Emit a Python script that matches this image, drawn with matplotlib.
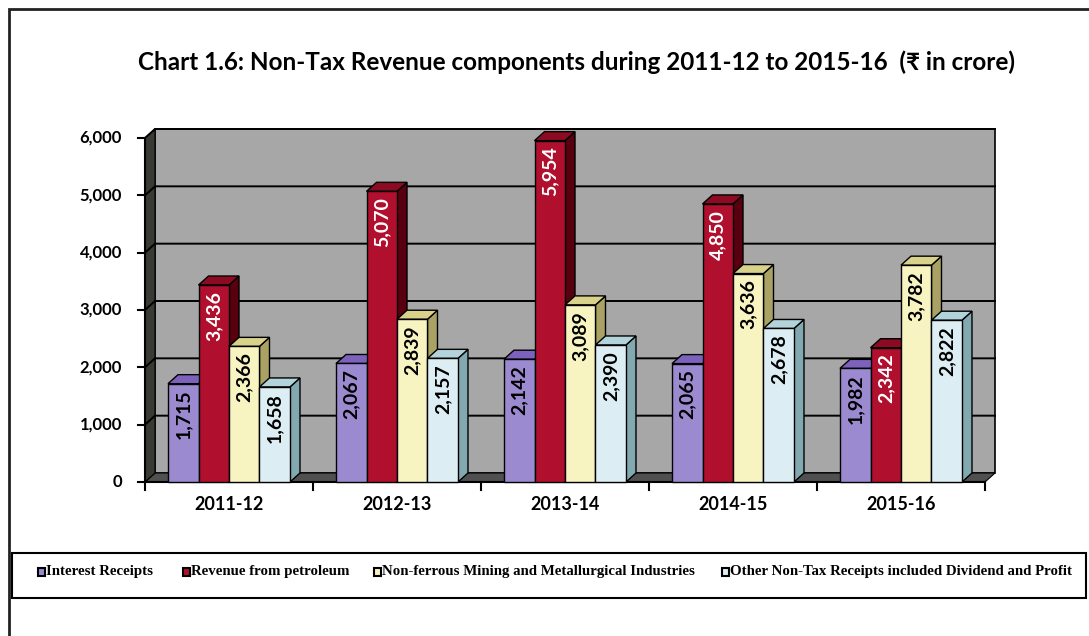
import matplotlib.pyplot as plt
from matplotlib.patches import Polygon, Rectangle

# Non-tax revenue components (Rs in crore)
years = ["2011-12", "2012-13", "2013-14", "2014-15", "2015-16"]
interest = [1715, 2067, 2142, 2065, 1982]
petroleum = [3436, 5070, 5954, 4850, 2342]
mining = [2366, 2839, 3089, 3636, 3782]
other = [1658, 2157, 2390, 2678, 2822]
series_names = ["Interest Receipts", "Revenue from petroleum",
                "Non-ferrous Mining and Metallurgical Industries",
                "Other Non-Tax Receipts included Dividend and Profit"]
yticks = [0, 1000, 2000, 3000, 4000, 5000, 6000]

# front, top, side colours of each series
colours = [("#9c8ad0", "#7d62bd", "#5f4e93"),
           ("#b0102e", "#8c0b22", "#58000f"),
           ("#f8f4c2", "#d9d28a", "#a9a264"),
           ("#dcedf3", "#b3d3da", "#83a9b0")]
label_colours = ["black", "white", "black", "black"]
series = [interest, petroleum, mining, other]

W, H = 1089, 636
fig = plt.figure(figsize=(W / 100, H / 100), dpi=100)
FONT = ["Lato", "Noto Sans", "DejaVu Sans"]


def box(l, t, r, b):
    return [l / W, 1 - b / H, (r - l) / W, (b - t) / H]


# outer frame
fig.patches.append(Rectangle((9 / W, -0.05), 1.1, 1 - 9 / H + 0.05, transform=fig.transFigure,
                             fill=False, ec="#222222", lw=2))

fig.text(577 / W, 1 - 62 / H, "Chart 1.6: Non-Tax Revenue components during 2011-12 to 2015-16  (\u20b9 in crore)",
         ha="center", va="center", fontsize=17.5, fontweight="bold", family=FONT)

ax = fig.add_axes(box(145, 138, 985, 482))
ax.set_xlim(0, 5)
ax.set_ylim(0, 6000)
ax.axis("off")

sx = 5 / 840      # data units per pixel
sy = 6000 / 344
DX, DY = 10 * sx, 9 * sy

# walls and floor
ax.add_patch(Polygon([(DX, DY), (5 + DX, DY), (5 + DX, 6000 + DY), (DX, 6000 + DY)],
                     fc="#a7a7a7", ec="black", lw=1.2, clip_on=False, zorder=1))
ax.add_patch(Polygon([(0, 0), (5, 0), (5 + DX, DY), (DX, DY)],
                     fc="#505050", ec="black", lw=0.8, clip_on=False, zorder=1))
ax.add_patch(Polygon([(0, 0), (DX, DY), (DX, 6000 + DY), (0, 6000)],
                     fc="#3a3a34", ec="black", lw=0.8, clip_on=False, zorder=1))
for v in yticks[1:]:
    ax.plot([0, DX, 5 + DX], [v, v + DY, v + DY], color="black", lw=1.4, clip_on=False, zorder=2)

# axes lines and ticks
ax.plot([0, 0], [0, 6000], color="black", lw=1.5, clip_on=False, zorder=2)
ax.plot([0, 5], [0, 0], color="black", lw=1.5, clip_on=False, zorder=2)
for v in yticks:
    ax.plot([-7 * sx, 0], [v, v], color="black", lw=1.5, clip_on=False)
    ax.text(-23 * sx, v, f"{v:,}", ha="right", va="center", fontsize=12,
            fontweight="bold", family=FONT)
for k in range(6):
    ax.plot([k, k], [0, -8 * sy], color="black", lw=1.5, clip_on=False)
for i, yr in enumerate(years):
    ax.text(i + 0.5, -23 * sy, yr, ha="center", va="center", fontsize=13,
            fontweight="bold", family=FONT)

# 3D bars
bw = 0.1815
off = 0.137
for i in range(len(years)):
    for j, vals in enumerate(series):
        v = vals[i]
        x0 = i + off + j * bw
        x1 = x0 + bw
        front, top, side = colours[j]
        z = 3 + i * 4 + j
        ax.add_patch(Polygon([(x1, 0), (x1 + DX, DY), (x1 + DX, v + DY), (x1, v)],
                             fc=side, ec="black", lw=1, clip_on=False, zorder=z))
        ax.add_patch(Polygon([(x0, v), (x1, v), (x1 + DX, v + DY), (x0 + DX, v + DY)],
                             fc=top, ec="black", lw=1, clip_on=False, zorder=z))
        ax.add_patch(Rectangle((x0, 0), bw, v, fc=front, ec="black", lw=1,
                               clip_on=False, zorder=z))
        ax.text(x0 + bw / 2, v - 6 * sy, f"{v:,}", rotation=90, ha="center", va="top",
                fontsize=14, fontweight="bold", color=label_colours[j], family=FONT,
                zorder=z + 0.5)

# legend
fig.patches.append(Rectangle((12 / W, 1 - 598 / H), (1086 - 12) / W, 45 / H,
                             transform=fig.transFigure, fill=False, ec="black", lw=1.5))
leg_x = [38, 183, 374, 722]
for x, name, c in zip(leg_x, series_names, colours):
    fig.patches.append(Rectangle((x / W, 1 - 576 / H), 7 / W, 8 / H, transform=fig.transFigure,
                                 fc=c[0], ec="black", lw=1.5))
    fig.text((x + 8) / W, 1 - 572 / H, name, ha="left", va="center", fontsize=10.7,
             fontweight="bold", family="Liberation Serif")

fig.savefig("out.png", dpi=100)
